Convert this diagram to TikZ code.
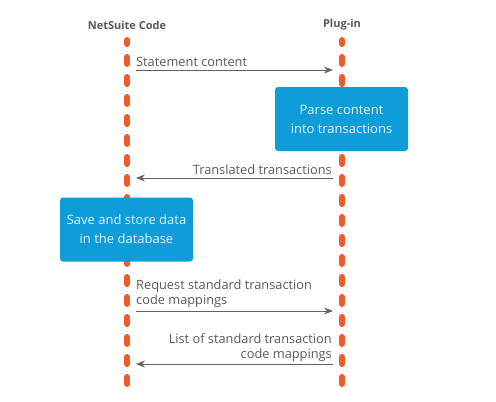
\documentclass[tikz,border=0pt]{standalone}
\usepackage{fontspec}
\setmainfont{Open Sans}
\usetikzlibrary{arrows.meta}
\definecolor{lifeorange}{HTML}{F15A29}
\definecolor{boxblue}{HTML}{0E9DD8}
\definecolor{txtgray}{HTML}{555A5F}
\definecolor{arrgray}{HTML}{5F6366}
\tikzset{
  lifeline/.style={draw=lifeorange, line width=6pt, line cap=round, dash pattern=on 7pt off 13pt, dash phase=3pt},
  hdr/.style={font=\fontsize{11}{13}\selectfont\bfseries, text=txtgray, inner sep=0pt},
  msg/.style={font=\fontsize{12.8}{15.5}\selectfont, text=txtgray, inner sep=0pt},
  msgarrow/.style={draw=arrgray, line width=1pt, -{Stealth[length=9pt,width=7pt]}},
  procbox/.style={fill=boxblue, rounded corners=3pt, text=white!88!boxblue, align=center,
    minimum width=133pt, minimum height=64pt, inner sep=0pt,
    font=\fontsize{13}{19}\selectfont},
}
\begin{document}
\begin{tikzpicture}[x=1pt,y=-1pt]
\useasboundingbox (0,0) rectangle (496,402);
% headers
\node[hdr] (hL) at (127,25) {NetSuite Code};
\node[hdr] (hR) at (342,25) {Plug-in};
% lifelines
\coordinate (Ltop) at (127,40);
\coordinate (Lbot) at (127,384);
\coordinate (Rtop) at (342,40);
\coordinate (Rbot) at (342,384);
\draw[lifeline] (Ltop) -- (Lbot);
\draw[lifeline] (Rtop) -- (Rbot);
% boxes
\node[procbox] (parse) at (341.5,119) {Parse content\\into transactions};
\node[procbox] (save) at (126.5,229.5) {Save and store data\\in the database};
% message 1
\coordinate (a1) at (136,70);
\coordinate (b1) at (333,70);
\draw[msgarrow] (a1) -- (b1);
\node[msg, anchor=base west] (t1) at (136,66.5) {Statement content};
% message 2
\coordinate (a2) at (333,178);
\coordinate (b2) at (136,178);
\draw[msgarrow] (a2) -- (b2);
\node[msg, anchor=base east] (t2) at (332,174.5) {Translated transactions};
% message 3
\coordinate (a3) at (136,311);
\coordinate (b3) at (333,311);
\draw[msgarrow] (a3) -- (b3);
\node[msg, anchor=base west, align=left] (t3) at (136,304.5) {Request standard transaction\\code mappings};
% message 4
\coordinate (a4) at (333,364);
\coordinate (b4) at (136,364);
\draw[msgarrow] (a4) -- (b4);
\node[msg, anchor=base east, align=right] (t4) at (332,358.5) {List of standard transaction\\code mappings};
\end{tikzpicture}
\end{document}
